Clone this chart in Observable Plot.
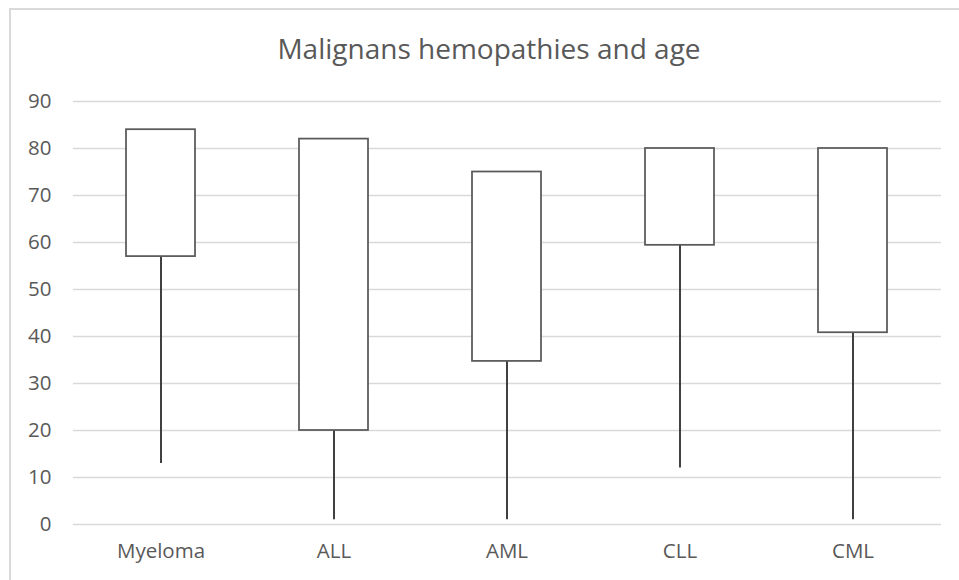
<!DOCTYPE html>
<html>
<head>
<meta charset="utf-8">
<script src="https://cdn.jsdelivr.net/npm/d3@7"></script>
<script src="https://cdn.jsdelivr.net/npm/@observablehq/plot@0.6"></script>
<style>
  html, body { margin: 0; padding: 0; background: #fff; overflow: hidden; }
  #wrap { position: relative; width: 959px; height: 580px; }
  #frame { position: absolute; left: 9px; top: 8px; width: 1000px; height: 700px; border-left: 2px solid #d9d9d9; border-top: 2px solid #d9d9d9; pointer-events: none; }
  #title { position: absolute; left: 0; top: 8px; width: 978px; height: 80px; text-align: center; font-family: "Open Sans", sans-serif; font-size: 28px; color: #595959; line-height: 80px; }
  #chart { position: absolute; left: 0; top: 80px; }
</style>
</head>
<body>
<div id="wrap">
  <div id="title">Malignans hemopathies and age</div>
  <div id="chart"></div>
  <div id="frame"></div>
</div>
<script>
const categories = ["Myeloma", "ALL", "AML", "CLL", "CML"];
const minAge  = [13, 1, 1, 12, 1];
const lowAge  = [57, 20, 34.7, 59.4, 40.8];
const highAge = [84, 82, 75, 80, 80];
const yTicks = [0, 10, 20, 30, 40, 50, 60, 70, 80, 90];

const rows = categories.map((c, i) => ({cat: c, min: minAge[i], low: lowAge[i], high: highAge[i]}));

const plot = Plot.plot({
  width: 959,
  height: 500,
  marginTop: 21,
  marginBottom: 56,
  marginLeft: 73,
  marginRight: 18,
  style: {fontFamily: "'Open Sans', sans-serif", fontSize: "20.5px", color: "#595959", background: "transparent"},
  x: {domain: categories, paddingInner: 0.6, paddingOuter: 0.3, label: null},
  y: {domain: [0, 90], label: null},
  marks: [
    Plot.gridY(yTicks, {stroke: "#d9d9d9", strokeOpacity: 1, strokeWidth: 1.5}),
    Plot.axisY(yTicks, {tickSize: 0, tickPadding: 22, fontSize: 20.5, fill: "#595959", label: null}),
    Plot.axisX({tickSize: 0, tickPadding: 19, fontSize: 20.5, fill: "#595959", label: null}),
    Plot.ruleX(rows, {x: "cat", y1: "min", y2: "low", stroke: "#404040", strokeWidth: 2}),
    Plot.barY(rows, {x: "cat", y1: "low", y2: "high", fill: "white", stroke: "#595959", strokeWidth: 1.75})
  ]
});
document.getElementById("chart").appendChild(plot);
</script>
</body>
</html>
